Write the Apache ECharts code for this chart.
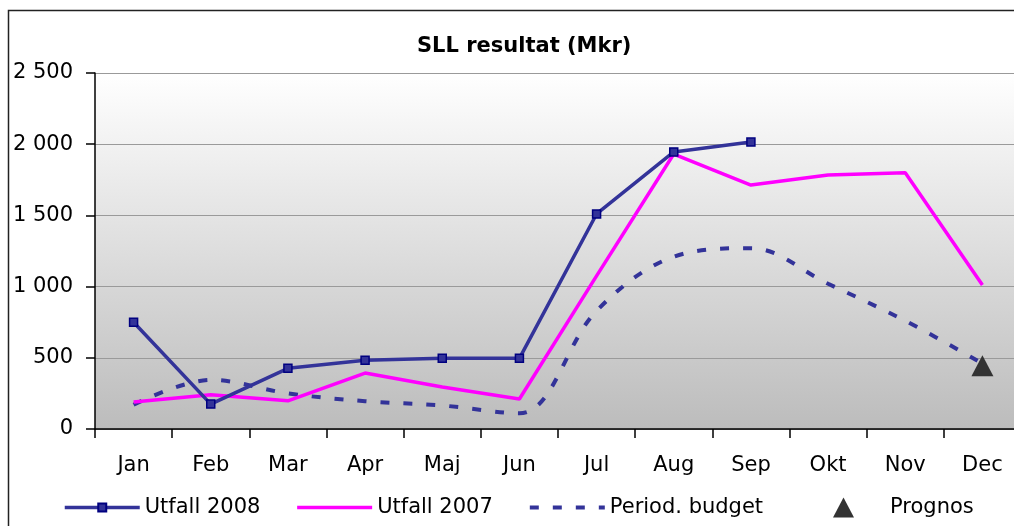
<!DOCTYPE html>
<html>
<head>
<meta charset="utf-8">
<title>SLL resultat</title>
<script src="https://cdn.jsdelivr.net/npm/echarts@6/dist/echarts.min.js"></script>
<style>
    html, body { margin: 0; padding: 0; background: #fff; }
    .chart { width: 1014px; height: 526px; }
</style>
</head>
<body>
<div class="chart"></div>
<script>
// months on the x axis
const months = ['Jan', 'Feb', 'Mar', 'Apr', 'Maj', 'Jun', 'Jul', 'Aug', 'Sep', 'Okt', 'Nov', 'Dec']

// series values (Mkr)
const utfall2008 = [750, 175, 426, 483, 496, 496, 1510, 1946, 2015, null, null, null]
const utfall2007 = [190, 240, 198, 393, 295, 211, 1075, 1931, 1713, 1784, 1800, 1011]
const budget = [170, 345, 250, 195, 165, 110, 830, 1210, 1270, 1020, 760, 460]
const prognos = [null, null, null, null, null, null, null, null, null, null, null, 445]

// y axis ticks
const yTicks = [0, 500, 1000, 1500, 2000, 2500]

const font = 'DejaVu Sans'

// "2500" -> "2 500"
function fmt(v) {
    if (v < 1000) return String(v)
    return Math.floor(v / 1000) + ' ' + String(v % 1000).padStart(3, '0')
}

const myChart = echarts.init(document.querySelector('.chart'), null, { renderer: 'canvas' })

const legendText = { fontFamily: font, fontSize: 21, color: '#000' }

const option = {
    animation: false,
    textStyle: { fontFamily: font },
    title: {
        text: 'SLL resultat (Mkr)',
        left: 417,
        top: 36,
        padding: 0,
        textStyle: { fontFamily: font, fontSize: 21, fontWeight: 'bold', color: '#000' }
    },
    // outer frame of the chart (only top and left edge are inside the picture)
    graphic: [
        {
            type: 'polyline',
            shape: { points: [[8.5, 600], [8.5, 10.5], [1100, 10.5]] },
            style: { fill: null, stroke: '#222', lineWidth: 1.5 },
            silent: true
        }
    ],
    legend: [
        {
            // the three lines
            data: [
                { name: 'Utfall 2008', lineStyle: { width: 3.5 } },
                { name: 'Utfall 2007', lineStyle: { width: 3.5 }, itemStyle: { opacity: 0 } },
                { name: 'Period. budget', lineStyle: { width: 4 }, itemStyle: { opacity: 0 } }
            ],
            left: 63,
            top: 497,
            padding: 0,
            itemWidth: 75,
            itemHeight: 10,
            itemGap: 35,
            textStyle: legendText
        },
        {
            // forecast marker
            data: [{ name: 'Prognos', icon: 'triangle' }],
            left: 833,
            top: 497,
            padding: 0,
            itemWidth: 21,
            itemHeight: 20,
            textStyle: Object.assign({ padding: [0, 0, 0, 31] }, legendText)
        }
    ],
    grid: {
        left: 95,
        top: 73,
        width: 926,
        height: 356,
        outerBoundsMode: 'none',
        containLabel: false,
        show: true,
        borderWidth: 0,
        backgroundColor: {
            type: 'linear', x: 0, y: 0, x2: 0, y2: 1,
            colorStops: [
                { offset: 0, color: '#ffffff' },
                { offset: 1, color: '#bcbcbc' }
            ]
        }
    },
    xAxis: {
        type: 'category',
        data: months,
        boundaryGap: true,
        axisLine: { show: true, lineStyle: { color: '#000', width: 1.5 } },
        axisTick: { show: true, length: 9, alignWithLabel: false, lineStyle: { color: '#000', width: 1.5 } },
        axisLabel: { fontFamily: font, fontSize: 21, color: '#000', margin: 26, interval: 0 },
        splitLine: { show: false }
    },
    yAxis: {
        type: 'value',
        min: yTicks[0],
        max: yTicks[yTicks.length - 1],
        interval: yTicks[1] - yTicks[0],
        axisLine: { show: true, lineStyle: { color: '#000', width: 1.5 } },
        axisTick: { show: true, length: 9, lineStyle: { color: '#000', width: 1.5 } },
        axisLabel: { fontFamily: font, fontSize: 21, color: '#000', margin: 22, formatter: fmt },
        splitLine: { show: true, lineStyle: { color: '#9a9a9a', width: 1 } }
    },
    series: [
        {
            name: 'Utfall 2008',
            type: 'line',
            data: utfall2008,
            z: 5,
            symbol: 'rect',
            symbolSize: 8,
            showAllSymbol: true,
            lineStyle: { color: '#333399', width: 3.5 },
            itemStyle: { color: '#333399', borderColor: '#000080', borderWidth: 1.5 }
        },
        {
            name: 'Utfall 2007',
            type: 'line',
            data: utfall2007,
            z: 4,
            symbol: 'none',
            lineStyle: { color: '#ff00ff', width: 3.5 },
            itemStyle: { color: '#ff00ff' }
        },
        {
            name: 'Period. budget',
            type: 'line',
            data: budget,
            z: 3,
            smooth: 0.35,
            symbol: 'none',
            lineStyle: { color: '#333399', width: 4, type: [9, 14], cap: 'butt' },
            itemStyle: { color: '#333399' }
        },
        {
            name: 'Prognos',
            type: 'scatter',
            data: prognos,
            z: 6,
            symbol: 'triangle',
            symbolSize: [22, 21],
            itemStyle: { color: '#333333', opacity: 1 }
        }
    ]
}

myChart.setOption(option)

window.addEventListener('resize', () => {
    myChart.resize()
})
</script>
</body>
</html>
